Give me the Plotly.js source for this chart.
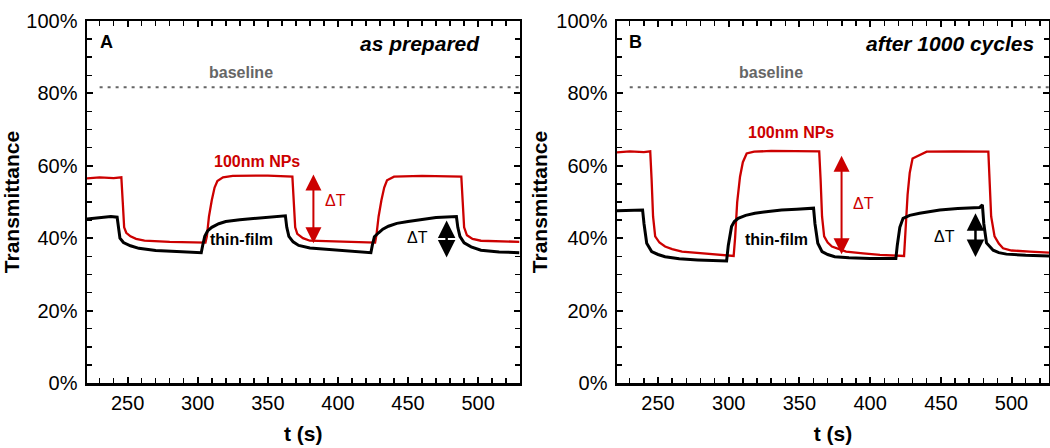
<!DOCTYPE html>
<html><head><meta charset="utf-8">
<script src="https://cdn.plot.ly/plotly-3.0.1.min.js"></script>
<style>html,body{margin:0;padding:0;background:#fff}#chart{width:1050px;height:448px}</style>
</head><body><div id="chart"></div>
<script>
// ---- Panel A (as prepared) ----
const tA_np = [221,230,240,245.5,246.5,247.5,249,252,256,262,280,300,305.5,306.5,308,310,312,314,318,325,350,367.5,368.5,369.5,371,375,380,400,420,426.5,427.5,429,431,433,435,440,460,488,489,490,492,496,502,529.5];
const TA_np = [56.5,56.8,56.6,56.8,50,43,41.5,40.5,39.8,39.3,39.0,38.9,38.8,40.5,46,50.5,54,55.8,56.8,57.2,57.3,57.0,50,43,41.2,40,39.3,39.0,38.9,38.8,41,46,50.5,54,56,57,57.2,57.0,50,43,40.8,39.8,39.3,39.0];
const tA_tf = [221,230,238,242.5,243.5,244.5,247,252,258,270,285,302.5,303.5,305,307,310,315,320,330,340,350,362.5,363.5,365,368,372,380,395,410,423.5,424.5,426,429,432,436,442,450,460,470,484.5,485.5,487,490,495,502,515,529.5];
const TA_tf = [45.3,45.6,46.0,45.8,42,40,38.8,37.9,37.2,36.6,36.3,36.0,38,40.5,42,43,44,44.6,45.1,45.5,45.8,46.2,43,40.5,39,38,37.3,36.8,36.4,36.0,38,40.4,41.5,42.5,43.3,44.1,44.6,45.2,45.7,46.0,43,40.5,38.7,37.6,36.7,36.2,36.0];
// ---- Panel B (after 1000 cycles) ----
const tB_np = [221,230,240,244.5,245.5,246.5,248,251,255,260,267,280,290,303.5,304.5,306,308,310,312.7,318,330,350,364,365,366,367.5,370,373,378,383,395,407,424,425,426.5,428,430,440,460,483.6,484.6,485.6,488,491,494,500,513,526.5];
const TB_np = [63.7,64.0,63.8,64.0,56,46,40.5,38.8,37.7,37.0,36.3,35.9,35.6,35.1,40,50,57,61,63.4,63.9,64.1,64.0,64.0,56,46,40.5,38.8,37.7,37.0,36.3,35.8,35.4,35.1,42,52,58,62,63.9,64.0,63.9,56,46,40.5,38.5,37.2,36.6,36.3,36.0];
const tB_tf = [221,230,239.1,240.1,242,245.5,250,255,265,278,298.5,299.7,302,304,306.7,312,318.5,328,337.4,348,358.6,360,361,363,366,370,375,385,400,418.2,419.2,421,423.3,428,435,442,449.3,462,477.5,479.4,480.4,482.3,487,491,496.4,510,526.5];
const TB_tf = [47.6,47.8,47.8,44,38.6,36.3,35.5,34.9,34.3,34.0,33.7,38,43.2,44.6,45.5,46.3,46.9,47.4,47.8,48.0,48.2,48.3,44,38.6,36.3,35.5,34.9,34.6,34.4,34.4,38,43,45.5,46.3,46.9,47.4,47.8,48.2,48.5,49.2,44,38.7,36.7,36.0,35.6,35.3,35.1];
// ---- shared ----
const baselineT = [230, 529.5];
const baselineT2 = [230, 526.5];
const baselineV = [81.7, 81.7];
const xTicks = [250,300,350,400,450,500];
const yTicks = [0,20,40,60,80,100];
const yTickText = ['0%','20%','40%','60%','80%','100%'];

const RED = '#cc0000';
const FONT = 'Liberation Sans, Arial, sans-serif';

function tr(x, y, xa, ya, color, width, dash){
  return {x:x, y:y, xaxis:xa, yaxis:ya, type:'scatter', mode:'lines',
    line:{color:color, width:width, dash:dash||'solid'}, hoverinfo:'skip', showlegend:false};
}
const data = [
  tr(baselineT, baselineV, 'x','y','#666666',2,'3px,5px'),
  tr(tA_np, TA_np, 'x','y', RED, 2.3),
  tr(tA_tf, TA_tf, 'x','y', '#000', 3),
  tr(baselineT2, baselineV, 'x2','y2','#666666',2,'3px,5px'),
  tr(tB_np, TB_np, 'x2','y2', RED, 2.3),
  tr(tB_tf, TB_tf, 'x2','y2', '#000', 3)
];

function xax(domain, range, anchor){
  return {domain:domain, range:range, anchor:anchor, tickmode:'array', tickvals:xTicks,
    ticks:'inside', ticklen:6, tickwidth:2, tickcolor:'#000',
    showline:true, linewidth:2.5, linecolor:'#000', mirror:'ticks',
    showgrid:false, zeroline:false,
    minor:{dtick:10, ticks:'inside', ticklen:5, tickwidth:1.5, tickcolor:'#000', showgrid:false},
    tickfont:{family:FONT, size:20, color:'#000'},
    title:{text:'<b>t (s)</b>', font:{family:FONT, size:21, color:'#000'}, standoff:14}};
}
function yax(anchor){
  return {domain:[0,1], range:[0,100], anchor:anchor, tickmode:'array', tickvals:yTicks, ticktext:yTickText,
    ticks:'inside', ticklen:6, tickwidth:2, tickcolor:'#000',
    showline:true, linewidth:2.5, linecolor:'#000', mirror:'ticks',
    showgrid:false, zeroline:false, ticklabelstandoff:3,
    minor:{dtick:5, ticks:'inside', ticklen:5, tickwidth:1.5, tickcolor:'#000', showgrid:false},
    tickfont:{family:FONT, size:20, color:'#000'},
    title:{text:'<b>Transmittance</b>', font:{family:FONT, size:21, color:'#000'}, standoff:3}};
}

function txt(xref, yref, x, y, text, size, color, xanchor){
  return {xref:xref, yref:yref, x:x, y:y, text:text, showarrow:false,
    font:{family:FONT, size:size, color:color}, xanchor:xanchor||'center', yanchor:'middle'};
}
function arrow(xref, yref, x, y0, y1, color, w, s){
  return {xref:xref, yref:yref, axref:xref, ayref:yref, x:x, y:y1, ax:x, ay:y0, text:'',
    showarrow:true, arrowside:'end+start', arrowhead:2, startarrowhead:2,
    arrowsize:s, startarrowsize:s, arrowwidth:w, arrowcolor:color, standoff:0, startstandoff:0};
}

const annotations = [
  txt('x','y',235,94.3,'<b>A</b>',18,'#000'),
  txt('x','y',503,93.9,'<b><i>as prepared</i></b>',21,'#000','right'),
  txt('x','y',331,85.9,'<b>baseline</b>',16,'#666'),
  txt('x','y',342.4,61.3,'<b>100nm NPs</b>',16,RED),
  txt('x','y',331.5,39.6,'<b>thin-film</b>',16,'#000'),
  txt('x','y',398,50.3,'ΔT',16,RED),
  txt('x','y',456.5,40.1,'ΔT',16,'#000'),
  arrow('x','y',382.5,58.0,38.6,RED,2,1.6),
  arrow('x','y',477.5,45.3,34.7,'#000',2.5,1.4),

  txt('x2','y2',234.1,94.3,'<b>B</b>',18,'#000'),
  txt('x2','y2',517.6,93.9,'<b><i>after 1000 cycles</i></b>',21,'#000','right'),
  txt('x2','y2',329.7,85.9,'<b>baseline</b>',16,'#666'),
  txt('x2','y2',344,69.1,'<b>100nm NPs</b>',16,RED),
  txt('x2','y2',333.9,39.6,'<b>thin-film</b>',16,'#000'),
  txt('x2','y2',395.5,49.6,'ΔT',16,RED),
  txt('x2','y2',452.8,40.4,'ΔT',16,'#000'),
  arrow('x2','y2',379.8,63.2,35.6,RED,2,1.6),
  arrow('x2','y2',474.5,47.3,34.8,'#000',2.5,1.4)
];

const layout = {
  width:1050, height:448,
  margin:{l:0, r:0, t:21, b:65, pad:0},
  paper_bgcolor:'#fff', plot_bgcolor:'#fff',
  showlegend:false,
  font:{family:FONT, color:'#000'},
  xaxis: xax([87/1050, 519.5/1050], [221, 529.5], 'y'),
  yaxis: yax('x'),
  xaxis2: xax([617/1050, 1049/1050], [221, 526.5], 'y2'),
  yaxis2: yax('x2'),
  annotations: annotations
};

Plotly.newPlot('chart', data, layout, {staticPlot:true, displayModeBar:false});
</script>
</body></html>
